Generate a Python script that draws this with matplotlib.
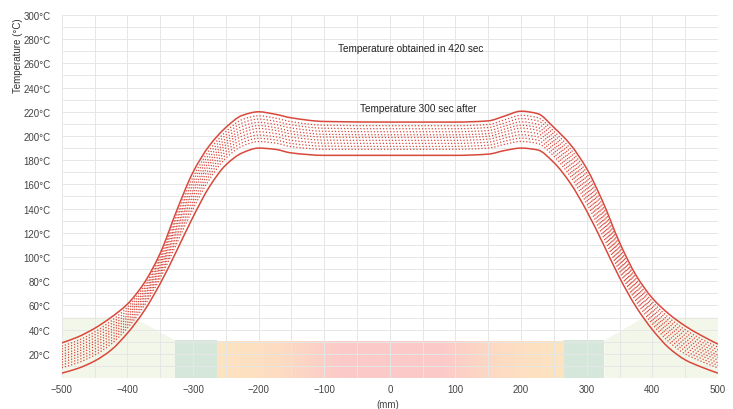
import matplotlib
matplotlib.use("Agg")
import matplotlib.pyplot as plt
import numpy as np
from matplotlib.colors import LinearSegmentedColormap
from matplotlib.patches import Polygon, Rectangle, PathPatch
from matplotlib.path import Path

plt.rcParams['font.family'] = ['Liberation Sans', 'DejaVu Sans']

# ---- data ----
x_mm = [-500, -475, -450, -425, -400, -375, -350, -325, -300, -275, -250, -225, -200, -175, -150, -100,
        0, 100, 150, 175, 200, 225, 250, 275, 300, 325, 350, 375, 400, 425, 450, 475, 500]

temp_420s = [29, 34, 41, 50, 61, 78, 103, 138, 170, 192, 207, 217, 220, 218, 215, 212,
             211.5, 211.5, 212.5, 216.5, 220.5, 218.5, 207, 193, 173, 145, 112, 85, 66, 53, 43, 35, 28]

temp_300s_after = [4, 8, 14, 23, 37, 55, 78, 105, 133, 158, 176, 186, 190, 189, 186, 184,
                   184, 184, 185, 188, 190, 188.5, 178, 161, 138, 111, 83, 59, 40, 25, 15, 9, 4]

intermediate = [
    [26.2, 31.1, 38.0, 47.0, 58.4, 75.5, 100.3, 134.4, 165.9, 188.3, 203.6, 213.6, 216.7, 214.8, 211.8, 208.9, 208.5, 208.5, 209.5, 213.4, 217.1, 215.2, 203.8, 189.5, 169.2, 141.3, 108.8, 82.1, 63.1, 49.9, 39.9, 32.1, 25.4],
    [24.0, 28.8, 35.6, 44.6, 56.2, 73.4, 98.0, 131.4, 162.6, 185.2, 200.8, 210.8, 214.0, 212.2, 209.2, 206.4, 206.0, 206.0, 207.0, 210.8, 214.4, 212.5, 201.2, 186.6, 166.0, 138.2, 106.2, 79.8, 60.8, 47.4, 37.4, 29.8, 23.2],
    [21.8, 26.5, 33.2, 42.2, 54.0, 71.3, 95.8, 128.4, 159.3, 182.1, 198.0, 208.0, 211.3, 209.6, 206.6, 203.9, 203.5, 203.5, 204.5, 208.2, 211.7, 209.8, 198.6, 183.7, 162.9, 135.1, 103.6, 77.5, 58.5, 44.9, 34.9, 27.5, 21.0],
    [19.5, 24.1, 30.7, 39.7, 51.9, 69.3, 93.5, 125.5, 155.9, 179.1, 195.2, 205.2, 208.6, 207.0, 204.0, 201.4, 201.0, 201.0, 202.0, 205.7, 208.9, 207.1, 196.0, 180.8, 159.7, 132.1, 101.0, 75.1, 56.1, 42.4, 32.4, 25.1, 18.9],
    [17.5, 22.0, 28.6, 37.6, 50.0, 67.4, 91.5, 122.8, 153.0, 176.4, 192.7, 202.7, 206.2, 204.7, 201.7, 199.1, 198.8, 198.8, 199.8, 203.4, 206.5, 204.7, 193.7, 178.3, 156.9, 129.4, 98.7, 73.0, 54.0, 40.1, 30.1, 23.0, 17.0],
    [15.2, 19.7, 26.2, 35.2, 47.8, 65.4, 89.3, 119.9, 149.7, 173.3, 190.0, 200.0, 203.5, 202.1, 199.1, 196.6, 196.4, 196.4, 197.4, 200.8, 203.7, 202.0, 191.1, 175.4, 153.8, 126.3, 96.1, 70.7, 51.7, 37.6, 27.6, 20.7, 14.8],
    [13.0, 17.4, 23.7, 32.7, 45.6, 63.3, 87.0, 116.9, 146.3, 170.2, 187.2, 197.2, 200.8, 199.4, 196.4, 194.1, 193.9, 193.9, 194.9, 198.3, 201.0, 199.3, 188.4, 172.5, 150.6, 123.2, 93.4, 68.4, 49.4, 35.1, 25.1, 18.4, 12.6],
    [10.8, 15.0, 21.3, 30.3, 43.5, 61.2, 84.8, 113.9, 143.0, 167.2, 184.4, 194.4, 198.1, 196.8, 193.8, 191.6, 191.4, 191.4, 192.4, 195.7, 198.2, 196.6, 185.8, 169.6, 147.5, 120.2, 90.8, 66.0, 47.0, 32.6, 22.6, 16.0, 10.5],
    [8.5, 12.7, 18.9, 27.9, 41.3, 59.1, 82.5, 110.9, 139.7, 164.1, 181.6, 191.6, 195.4, 194.2, 191.2, 189.0, 189.0, 189.0, 190.0, 193.1, 195.5, 193.9, 183.2, 166.8, 144.3, 117.1, 88.2, 63.7, 44.7, 30.0, 20.0, 13.7, 8.3],
]

# background zones (x in mm, T in degC)
left_zone_x = [-500, -500, -391, -327, -327]
left_zone_y = [0, 50, 50, 31, 0]
right_zone_x = [327, 327, 387, 500, 500]
right_zone_y = [0, 31, 50, 50, 0]
cool_zones = [(-327, -264), (264, 327)]
cool_zone_top = 31
heat_zone = (-264, 264)
heat_zone_top = 30

y_ticks = list(range(20, 301, 20))
y_tick_labels = [f"{v}°C" for v in y_ticks]
x_ticks = list(range(-500, 501, 100))


def smooth_path(xs, ys):
    """Monotone cubic (PCHIP-style) Bezier path through the data points (line smoothing)."""
    x = np.asarray(xs, float)
    y = np.asarray(ys, float)
    h = np.diff(x)
    d = np.diff(y) / h
    n = len(x)
    m = np.zeros(n)
    m[0], m[-1] = d[0], d[-1]
    for k in range(1, n - 1):
        if d[k - 1] * d[k] <= 0:
            m[k] = 0.0
        else:
            w1 = 2 * h[k] + h[k - 1]
            w2 = h[k] + 2 * h[k - 1]
            m[k] = (w1 + w2) / (w1 / d[k - 1] + w2 / d[k])
    verts = [(x[0], y[0])]
    codes = [Path.MOVETO]
    for k in range(n - 1):
        verts += [(x[k] + h[k] / 3, y[k] + m[k] * h[k] / 3),
                  (x[k + 1] - h[k] / 3, y[k + 1] - m[k + 1] * h[k] / 3),
                  (x[k + 1], y[k + 1])]
        codes += [Path.CURVE4] * 3
    return Path(verts, codes)


# ---- figure ----
fig = plt.figure(figsize=(7.33, 4.10), dpi=100)
ax = fig.add_axes([0.0842, 0.0756, 0.8953, 0.8854])

ax.add_patch(Polygon(list(zip(left_zone_x, left_zone_y)), closed=True,
                     facecolor='#f3f7ea', edgecolor='none', zorder=0.1))
ax.add_patch(Polygon(list(zip(right_zone_x, right_zone_y)), closed=True,
                     facecolor='#f3f7ea', edgecolor='none', zorder=0.1))
for (a, b) in cool_zones:
    ax.add_patch(Rectangle((a, 0), b - a, cool_zone_top, facecolor='#d4e7da',
                           edgecolor='none', zorder=0.1))
cmap = LinearSegmentedColormap.from_list('heat', [(0.0, '#fde4c0'), (0.18, '#fddcc2'),
                                                  (0.36, '#fcc9c9'), (0.64, '#fcc9c9'),
                                                  (0.82, '#fddcc2'), (1.0, '#fde4c0')])
grad = np.linspace(0, 1, 256).reshape(1, -1)
ax.imshow(grad, extent=(heat_zone[0], heat_zone[1], 0, heat_zone_top), aspect='auto',
          cmap=cmap, zorder=0.1, interpolation='bilinear')
ax.set_xlim(-500, 500)
ax.set_ylim(0, 300)

# grid
for gx in range(-500, 501, 50):
    ax.axvline(gx, color='#e6e6e6', lw=0.7, zorder=0.3)
for gy in range(10, 301, 10):
    ax.axhline(gy, color='#e6e6e6', lw=0.7, zorder=0.3)

red = '#d9483b'
for series in intermediate:
    ax.add_patch(PathPatch(smooth_path(x_mm, series), fill=False, edgecolor=red,
                           lw=0.9, linestyle=(0, (1, 1.6)), zorder=2))
ax.add_patch(PathPatch(smooth_path(x_mm, temp_420s), fill=False, edgecolor=red, lw=1.1, zorder=3))
ax.add_patch(PathPatch(smooth_path(x_mm, temp_300s_after), fill=False, edgecolor=red, lw=1.1, zorder=3))

ax.text(31, 273, "Temperature obtained in 420 sec", ha='center', va='center',
        fontsize=7.2, color='#222222')
ax.text(43, 223, "Temperature 300 sec after", ha='center', va='center',
        fontsize=7.2, color='#222222')

ax.set_yticks(y_ticks)
ax.set_yticklabels(y_tick_labels)
ax.set_xticks(x_ticks)
ax.tick_params(axis='both', length=0, labelsize=7, colors='#444444')
ax.tick_params(axis='y', pad=8)
ax.tick_params(axis='x', pad=4)
for s in ax.spines.values():
    s.set_visible(False)

fig.text(0.5295, 0.0, "(mm)", ha='center', va='bottom', fontsize=7, color='#444444')
fig.text(0.025, 0.955, "Temperature (°C)", rotation=90, ha='center', va='top',
         fontsize=7, color='#333333')

fig.savefig("out.png", dpi=100)
